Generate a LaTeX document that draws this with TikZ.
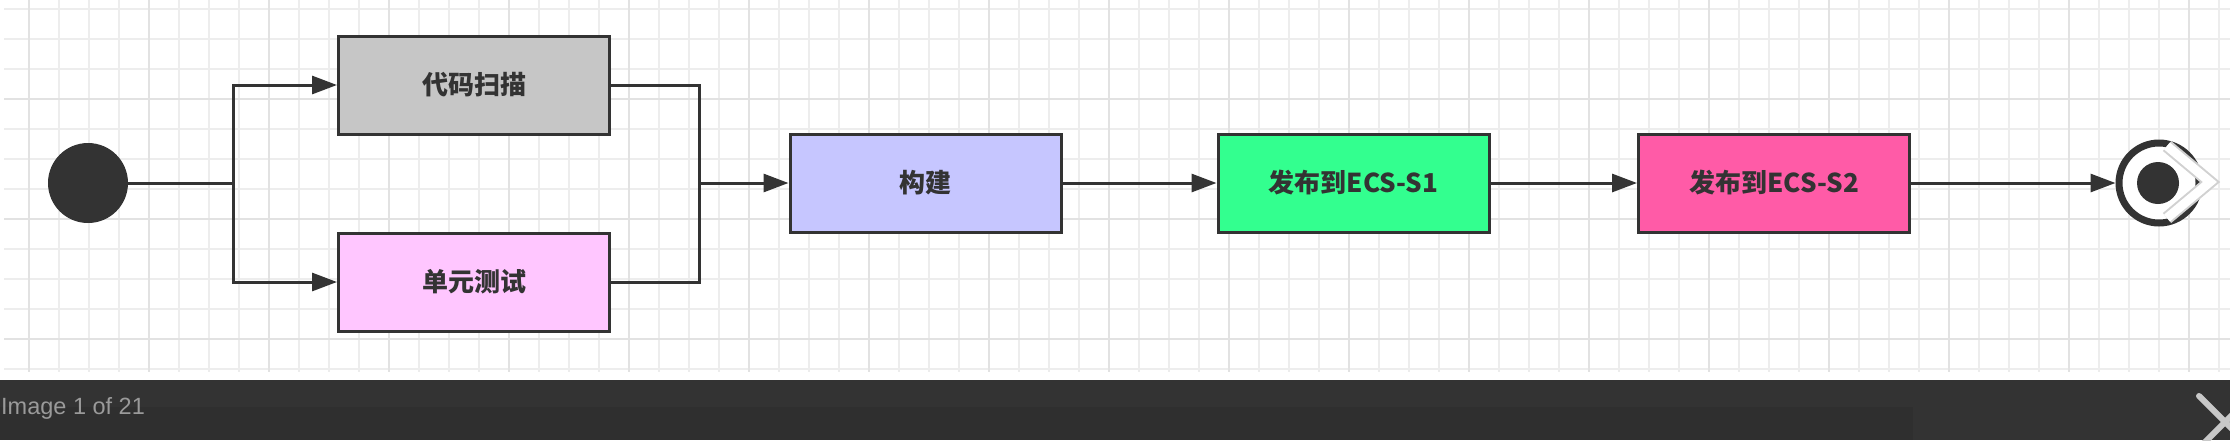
\documentclass[tikz,border=0pt]{standalone}
\usepackage{fontspec}
\usetikzlibrary{arrows.meta}
\newfontfamily\cjk{Noto Sans CJK SC}
\newfontfamily\uifont{Liberation Sans}
\definecolor{ink}{HTML}{333333}
\definecolor{gridminor}{HTML}{EDEDED}
\definecolor{gridmajor}{HTML}{E2E2E2}
\definecolor{codefill}{HTML}{C6C6C6}
\definecolor{testfill}{HTML}{FFC6FF}
\definecolor{buildfill}{HTML}{C6C6FF}
\definecolor{sonefill}{HTML}{33FF8F}
\definecolor{stwofill}{HTML}{FF5BA7}
\definecolor{barbg}{HTML}{333333}
\definecolor{barlow}{HTML}{2F2F2F}
\definecolor{bartext}{HTML}{9A9A9A}
\definecolor{closex}{HTML}{C8C8C8}
\tikzset{
  stepbox/.style={draw=ink, line width=3pt, rectangle, minimum width=271pt, minimum height=98pt, inner sep=0pt,
    font=\cjk\bfseries\fontsize{26}{30}\selectfont, text=ink},
  conn/.style={draw=ink, line width=3pt},
  arr/.style={-{Triangle[length=25pt,width=18pt]}},
  minorline/.style={draw=gridminor, line width=1.6pt},
  majorline/.style={draw=gridmajor, line width=1.8pt},
}
\begin{document}
\begin{tikzpicture}[x=1pt,y=-1pt]
\useasboundingbox (0,0) rectangle (2230,440);
\fill[white] (0,0) rectangle (2230,440);
% grid
\foreach \x in {29,59,...,2219} \draw[minorline] (\x,0) -- (\x,372);
\foreach \y in {9,39,...,369} \draw[minorline] (4,\y) -- (2230,\y);
\foreach \x in {29,149,...,2189} \draw[majorline] (\x,0) -- (\x,372);
\foreach \y in {99,219,339} \draw[majorline] (4,\y) -- (2230,\y);
% nodes
\node[circle, fill=ink, minimum size=80pt, inner sep=0pt] (start) at (88,183) {};
\node[stepbox, fill=codefill] (code) at (474,85) {代码扫描};
\node[stepbox, fill=testfill] (test) at (474,282) {单元测试};
\node[stepbox, fill=buildfill] (build) at (925.5,183) {构建};
\node[stepbox, fill=sonefill] (sone) at (1353.5,183) {发布到ECS-S1};
\node[stepbox, fill=stwofill] (stwo) at (1774,183) {发布到ECS-S2};
\node[circle, draw=ink, line width=7pt, fill=white, minimum size=80pt, inner sep=0pt] (end) at (2159,183) {};
\node[circle, fill=ink, minimum size=42pt, inner sep=0pt] (enddot) at (2158,183) {};
\coordinate (split) at (233,183);
\coordinate (merge) at (699,183);
% connectors
\draw[conn] (start) -- (split);
\draw[conn, arr] (split) |- (code);
\draw[conn, arr] (split) |- (test);
\draw[conn] (code) -| (merge);
\draw[conn] (test) -| (merge);
\draw[conn, arr] (merge) -- (build);
\draw[conn, arr] (build) -- (sone);
\draw[conn, arr] (sone) -- (stwo);
\draw[conn, arr] (stwo) -- (end);
% viewer overlay chevron
\draw[black!18, line width=13pt, line join=miter] (2167,146) -- (2210,182) -- (2167,218);
\draw[white, line width=9pt, line join=miter] (2167,146) -- (2210,182) -- (2167,218);
% viewer bar
\fill[barbg] (0,380) rectangle (2230,440);
\fill[barlow] (0,407) rectangle (1913,440);
\node[anchor=base west, inner sep=0pt, text=bartext, font=\uifont\fontsize{23.5}{28}\selectfont] (caption) at (1,414) {Image 1 of 21};
\draw[closex, line width=6pt, line cap=round] (2199,396) -- (2252,449);
\draw[closex, line width=6pt, line cap=round] (2199,448) -- (2252,395);
\end{tikzpicture}
\end{document}
